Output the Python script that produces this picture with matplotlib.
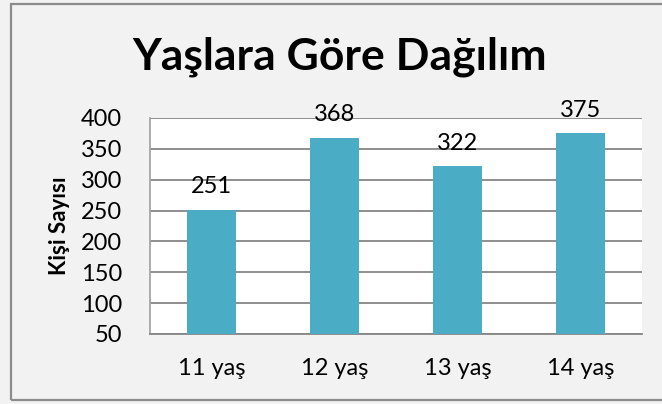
import matplotlib.pyplot as plt
from matplotlib.patches import Rectangle

categories = ["11 yaş", "12 yaş", "13 yaş", "14 yaş"]
counts = [251, 368, 322, 375]
yticks = [50, 100, 150, 200, 250, 300, 350, 400]

plt.rcParams["font.family"] = ["Lato", "DejaVu Sans"]

fig = plt.figure(figsize=(6.62, 4.04), dpi=100)
fig.patch.set_facecolor("#f2f2f2")
fig.patches.append(Rectangle((11 / 662, 4 / 404), 1.0, 396 / 404, transform=fig.transFigure,
                             fill=False, edgecolor="#8c8c8c", linewidth=1.6))

ax = fig.add_axes([150 / 662, 70 / 404, 492 / 662, 216 / 404])
ax.set_facecolor("white")

x = range(len(categories))
ax.bar(x, counts, width=0.4, color="#4bacc6", zorder=3)
for xi, v in zip(x, counts):
    ax.annotate(str(v), (xi, v), xytext=(0, 9), textcoords="offset points",
                ha="center", va="bottom", fontsize=17, color="black", annotation_clip=False)

ax.set_xlim(-0.5, 3.5)
ax.set_ylim(50, 400)
ax.set_yticks(yticks)
ax.set_xticks(list(x))
ax.set_xticklabels(categories)
ax.grid(axis="y", color="#868686", linewidth=1.3, zorder=0)
ax.set_axisbelow(True)
ax.tick_params(axis="y", length=0, pad=20, labelsize=17)
ax.tick_params(axis="x", length=0, pad=17, labelsize=17)
for side in ["top", "right"]:
    ax.spines[side].set_visible(False)
ax.spines["left"].set_color("#a6a6a6")
ax.spines["bottom"].set_color("#868686")
ax.spines["left"].set_linewidth(1.3)
ax.spines["bottom"].set_linewidth(1.3)

ax.set_ylabel("Kişi Sayısı", fontsize=16, fontweight="bold", labelpad=8)
fig.text(340 / 662, 1 - 57 / 404, "Yaşlara Göre Dağılım", ha="center", va="center",
         fontsize=32, fontweight="bold")

fig.savefig("out.png", dpi=100, facecolor=fig.get_facecolor())
